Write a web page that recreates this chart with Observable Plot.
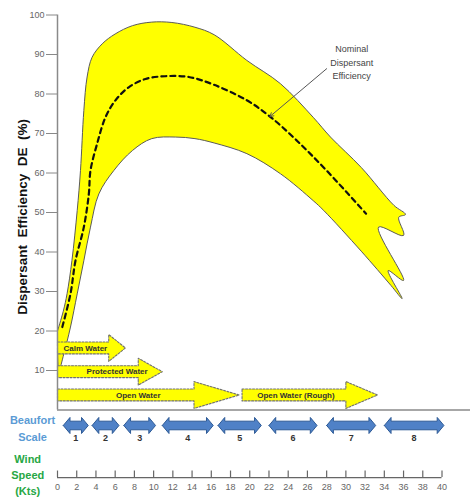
<!DOCTYPE html>
<html><head><meta charset="utf-8">
<script src="https://cdn.jsdelivr.net/npm/d3@7"></script>
<script src="https://cdn.jsdelivr.net/npm/@observablehq/plot@0.6"></script>
<style>
body{margin:0;background:#fff;}
#chart svg{display:block;}
</style>
</head><body><div id="chart"></div>
<script>
// ---- data (wind speed in knots, dispersant efficiency in %) ----
const upperEdge = [[0,20],[0.6,25],[1.0,29.5],[1.5,37.8],[2.05,50.5],[2.39,60.6],[2.74,75.8],[3.08,84.3],[3.6,89.3],[4.65,92.7],[6.0,95.2],[7.8,97.3],[9.8,98.2],[11.9,98.1],[14.3,96.9],[16.3,95],[19.7,88.5],[23.2,82.6],[26.6,74.1],[28.4,69.1],[31.6,61.4],[35.0,51.8]];
const tailEdge = [[36.2,49.5],[35.5,48.8],[36.0,44.2],[33.4,46.3],[36.0,32.8],[34.4,35.3],[35.85,28.2]];
const lowerEdge = [[34.7,31.5],[31.6,40.2],[27.7,50.5],[26.6,53.0],[23.2,59.8],[19.7,64.9],[16.3,67.6],[14.3,68.7],[12.3,69.1],[9.8,68.7],[7.8,65.7],[5.85,60.6],[4.3,54.7],[3.43,46.3],[2.74,37.8],[2.05,29.4],[1.35,21],[0.66,14.2],[0.14,10]];
const nominal = [[0.5,21],[1.35,29.4],[1.87,37.8],[2.74,46.3],[3.26,54.7],[3.43,60.6],[4.12,67.4],[4.99,74.1],[6.03,78.4],[7.41,81.7],[9.15,83.8],[11.2,84.5],[13.65,84.3],[16.2,82.4],[19.7,78.4],[22.1,74.3],[24.9,68.2],[28.0,60.6],[32.1,49.7]];
const annotationText = "Nominal\nDispersant\nEfficiency";
const annotationFrom = [28.0, 86.4];
const annotationTo = [22.1, 74.3];

const waterNames = ["Calm Water", "Protected Water", "Open Water", "Open Water (Rough)"];
const waterFrom  = [0, 0, 0, 19.2];
const waterNeck  = [5.33, 8.4, 14.2, 30.0];
const waterTip   = [7.07, 10.9, 18.9, 33.3];
const waterLevel = [15.7, 9.7, 3.8, 3.8];
const waterLabelAt = [2.9, 6.2, 8.4, 24.8];

const beaufortForce = ["1","2","3","4","5","6","7","8"];
const beaufortFrom  = [0.6, 3.6, 6.9, 10.9, 16.7, 22.0, 28.0, 34.0];
const beaufortTo    = [3.2, 6.4, 10.2, 16.2, 21.2, 27.0, 33.1, 40.2];

const yTicks = [10,20,30,40,50,60,70,80,90,100];
const windTicks = [0,2,4,6,8,10,12,14,16,18,20,22,24,26,28,30,32,34,36,38,40];

const yTitle = "Dispersant\u00a0\u00a0Efficiency\u00a0\u00a0DE\u00a0\u00a0(%)";
const beaufortTitle = "Beaufort\nScale";
const windTitle = "Wind\nSpeed\n(Kts)";

// ---- derived shapes ----
const band = [...upperEdge, ...tailEdge, ...lowerEdge, upperEdge[0]].map(([x,y]) => ({x, y}));
const nominalPts = nominal.map(([x,y]) => ({x, y}));

const wBody = 1.5, wHead = 3.4;
const waterPolys = waterNames.flatMap((name, i) => {
  const a = waterFrom[i], n = waterNeck[i], t = waterTip[i], c = waterLevel[i];
  return [[a,c+wBody],[n,c+wBody],[n,c+wHead],[t,c],[n,c-wHead],[n,c-wBody],[a,c-wBody],[a,c+wBody]]
    .map(([x,y]) => ({name, x, y}));
});
const waterLabels = waterNames.map((name, i) => ({name, x: waterLabelAt[i], y: waterLevel[i]}));

const bC = -3.92, bBody = 1.09, bHead = 2.03, bLen = 0.7;
const beaufortPolys = beaufortForce.flatMap((f, i) => {
  const a = beaufortFrom[i], b = beaufortTo[i];
  return [[a,bC],[a+bLen,bC+bHead],[a+bLen,bC+bBody],[b-bLen,bC+bBody],[b-bLen,bC+bHead],[b,bC],
          [b-bLen,bC-bHead],[b-bLen,bC-bBody],[a+bLen,bC-bBody],[a+bLen,bC-bHead],[a,bC]]
    .map(([x,y]) => ({f, x, y}));
});
const beaufortLabels = beaufortForce.map((f, i) => ({f, x: (beaufortFrom[i] + beaufortTo[i]) / 2}));

const windLineY = -17.1, windTickTop = -15.45, windLabelY = -19.4;
const font = "'Liberation Sans', Arial, sans-serif";

const chart = Plot.plot({
  width: 470,
  height: 498,
  marginLeft: 57,
  marginRight: 28.5,
  marginTop: 14.5,
  marginBottom: 88.5,
  style: {fontFamily: font, background: "#fff"},
  x: {domain: [0, 40], axis: null},
  y: {domain: [0, 100], axis: null},
  marks: [
    // efficiency band
    Plot.line(band, {x: "x", y: "y", curve: "catmull-rom", fill: "#ffff00", stroke: "#5a5a5a", strokeWidth: 1}),
    // nominal efficiency
    Plot.line(nominalPts, {x: "x", y: "y", curve: "catmull-rom", stroke: "#111", strokeWidth: 2.2, strokeDasharray: "5,4"}),
    // annotation
    Plot.arrow([0], {x1: () => annotationFrom[0], y1: () => annotationFrom[1], x2: () => annotationTo[0], y2: () => annotationTo[1],
      stroke: "#555", strokeWidth: 1, headLength: 6}),
    Plot.text([annotationText], {x: () => 30.6, y: () => 88.2, text: d => d, fontSize: 9, lineHeight: 1.5, fill: "#444"}),
    // water condition arrows
    Plot.line(waterPolys, {x: "x", y: "y", z: "name", curve: "linear", fill: "#ffff00", stroke: "#707070", strokeWidth: 1.1, strokeDasharray: "2,1.5"}),
    Plot.text(waterLabels, {x: "x", y: "y", text: "name", fontSize: 8, fontWeight: "bold", fill: "#333"}),
    // axes
    Plot.ruleY([0], {x1: 0, x2: 43, stroke: "#8a8a8a", strokeWidth: 1.5}),
    Plot.ruleX([0], {y1: 0, y2: 100, stroke: "#8a8a8a", strokeWidth: 1.5}),
    Plot.axisY({ticks: yTicks, tickSize: 11, tickPadding: 2, fontSize: 9, stroke: "#888", fill: "#666", label: null}),
    Plot.text([yTitle], {x: () => -3.6, y: () => 48.9, text: d => d, rotate: -90, fontSize: 13.5, fontWeight: "bold", fill: "#111"}),
    // Beaufort scale
    Plot.line(beaufortPolys, {x: "x", y: "y", z: "f", curve: "linear", fill: "#4f81c7", stroke: "#2d5a96", strokeWidth: 1}),
    Plot.text(beaufortLabels, {x: "x", y: () => -7.2, text: "f", fontSize: 9, fontWeight: "bold", fill: "#333"}),
    Plot.text([beaufortTitle], {x: () => -2.6, y: () => -4.3, text: d => d, fontSize: 11, lineHeight: 1.55, fontWeight: "bold", fill: "#5b9bd5"}),
    // wind speed axis
    Plot.ruleY([windLineY], {x1: 0, x2: 40, stroke: "#666", strokeWidth: 1.2}),
    Plot.ruleX(windTicks, {x: d => d, y1: windLineY, y2: windTickTop, stroke: "#666", strokeWidth: 1.2}),
    Plot.text(windTicks, {x: d => d, y: () => windLabelY, text: d => String(d), fontSize: 9, fill: "#666"}),
    Plot.text([windTitle], {x: () => -3.1, y: () => -16.1, text: d => d, fontSize: 11, lineHeight: 1.48, fontWeight: "bold", fill: "#27a744"})
  ]
});
document.getElementById("chart").append(chart);
</script>
</body></html>
